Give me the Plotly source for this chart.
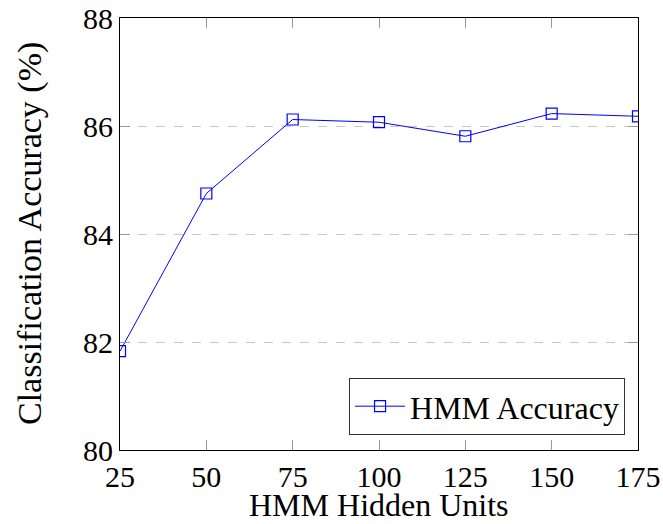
import plotly.graph_objects as go

hidden_units = [25, 50, 75, 100, 125, 150, 175]
accuracy = [81.83, 84.75, 86.12, 86.07, 85.81, 86.23, 86.18]
x_ticks = [25, 50, 75, 100, 125, 150, 175]
y_ticks = [80, 82, 84, 86, 88]
series_name = "HMM Accuracy"
x_title = "HMM Hidden Units"
y_title = "Classification Accuracy (%)"

FONT = "Liberation Serif"
L, R, T, B = 120, 25, 18, 74
W, H = 663, 524
pw, ph = W - L - R, H - T - B

fig = go.Figure()
fig.add_trace(go.Scatter(
    x=hidden_units, y=accuracy, mode="lines+markers", name=series_name,
    line=dict(color="#0000ff", width=1),
    marker=dict(symbol="square-open", size=11, color="#0000ff", line=dict(width=1.2, color="#0000ff")),
))

fig.update_layout(
    width=W, height=H,
    margin=dict(l=L, r=R, t=T, b=B, autoexpand=False),
    paper_bgcolor="white", plot_bgcolor="white",
    font=dict(family=FONT, size=30, color="black"),
    showlegend=True,
    legend=dict(
        x=0.975, y=0.035, xanchor="right", yanchor="bottom",
        bordercolor="#333333", borderwidth=1, bgcolor="white",
        font=dict(family=FONT, size=32, color="black"),
        itemwidth=50, tracegroupgap=0,
    ),
    xaxis=dict(
        range=[25, 175], tickvals=x_ticks, ticktext=[str(v) for v in x_ticks],
        showgrid=False, zeroline=False, automargin=False,
        showline=True, linecolor="black", linewidth=1.2, mirror="ticks",
        ticks="inside", ticklen=10, tickcolor="#999999", tickwidth=1,
        tickfont=dict(family=FONT, size=30, color="black"),
    ),
    yaxis=dict(
        range=[80, 88], tickvals=y_ticks, ticktext=[str(v) for v in y_ticks],
        showgrid=True, gridcolor="#c8c8c8", griddash="dash", gridwidth=1.2,
        zeroline=False, automargin=False,
        showline=True, linecolor="black", linewidth=1.2, mirror="ticks",
        ticks="inside", ticklen=10, tickcolor="#999999", tickwidth=1,
        tickfont=dict(family=FONT, size=30, color="black"),
    ),
    annotations=[
        dict(text=x_title, xref="paper", yref="paper", x=0.5, y=(H - B - H) / ph,
             xanchor="center", yanchor="bottom", showarrow=False,
             borderpad=0, font=dict(family=FONT, size=32, color="black")),
        dict(text=y_title, xref="paper", yref="paper", x=(30 - L) / pw, y=0.5,
             xanchor="center", yanchor="middle", textangle=-90, showarrow=False,
             font=dict(family=FONT, size=34, color="black")),
    ],
)

fig.write_html(
    "out.html",
    config={"displayModeBar": False},
    post_script="document.body.style.margin='0';document.body.style.overflow='hidden';",
)
